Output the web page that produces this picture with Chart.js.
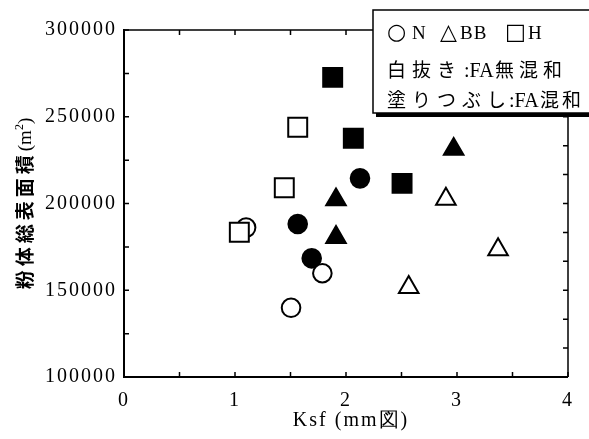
<!DOCTYPE html>
<html><head><meta charset="utf-8">
<script src="https://cdn.jsdelivr.net/npm/chart.js@4/dist/chart.umd.min.js"></script>
<style>html,body{margin:0;padding:0;background:#fff;}#c{display:block;}</style>
</head><body>
<canvas id="c" width="589" height="439"></canvas>
<script>
// ---- data ----
const nOpenX = [1.10, 1.787, 1.505];
const nOpenY = [186100, 159800, 139900];
const nFillX = [1.565, 1.691, 2.126];
const nFillY = [188200, 168400, 214500];
const bbOpenX = [2.90, 3.37, 2.565];
const bbOpenY = [202600, 173400, 151700];
const bbFillX = [1.91, 1.91, 2.97];
const bbFillY = [202200, 180500, 231300];
const hOpenX = [1.565, 1.444, 1.039];
const hOpenY = [243900, 209100, 183400];
const hFillX = [1.88, 2.066, 2.505];
const hFillY = [272700, 237600, 211600];
const xTicks = [0, 1, 2, 3, 4];
const yTicks = [100000, 150000, 200000, 250000, 300000];
const xTitle = 'Ksf (mm図)';
const yTitleMain = '粉体総表面積';
const yTitleUnit = ['(m', '2', ')'];
const legendLine1 = [['○', 'N'], ['△', 'BB'], ['□', 'H']];
const legendLine2 = ['白抜き', ':FA', '無混和'];
const legendLine3 = ['塗りつぶし', ':FA', '混和'];

const pts = (xs, ys) => xs.map((x, i) => ({x: x, y: ys[i]}));
const SERIF = '"Liberation Serif", "DejaVu Serif", serif';
const CJK = '"Noto Sans CJK JP", sans-serif';

function ds(label, data, style, filled, radius) {
  return {label, data, pointStyle: style, pointRadius: radius, pointHoverRadius: radius,
    backgroundColor: filled ? '#000' : '#fff', borderColor: '#000', borderWidth: 2, showLine: false};
}

const framePlugin = {
  id: 'frame',
  beforeDraw(chart) { chart.ctx.letterSpacing = '2px'; },
  afterDraw(chart) {
    const ctx = chart.ctx, a = chart.chartArea, s = chart.scales;
    ctx.save();
    ctx.letterSpacing = '0px';
    ctx.strokeStyle = '#000';
    // ticks
    ctx.lineWidth = 1.5;
    const T = 5;
    ctx.beginPath();
    s.x.ticks.forEach(t => { const p = s.x.getPixelForValue(t.value); ctx.moveTo(p, a.bottom); ctx.lineTo(p, a.bottom - T); });
    s.x2.ticks.forEach(t => { const p = s.x2.getPixelForValue(t.value); ctx.moveTo(p, a.top); ctx.lineTo(p, a.top + T); });
    s.y.ticks.forEach(t => { const p = s.y.getPixelForValue(t.value); ctx.moveTo(a.left, p); ctx.lineTo(a.left + T, p); });
    s.y2.ticks.forEach(t => { const p = s.y2.getPixelForValue(t.value); ctx.moveTo(a.right, p); ctx.lineTo(a.right - T, p); });
    ctx.stroke();
    // frame
    ctx.lineWidth = 2;
    ctx.beginPath(); ctx.moveTo(a.left, a.top - 1); ctx.lineTo(a.left, a.bottom); ctx.lineTo(a.right, a.bottom); ctx.stroke();
    ctx.lineWidth = 1.5;
    ctx.beginPath(); ctx.moveTo(a.left, a.top); ctx.lineTo(a.right, a.top); ctx.lineTo(a.right, a.bottom); ctx.stroke();

    // x title
    ctx.fillStyle = '#000';
    ctx.textBaseline = 'middle';
    ctx.textAlign = 'center';
    ctx.font = '20px ' + SERIF;
    ctx.letterSpacing = '2px';
    ctx.fillText(xTitle, (a.left + a.right) / 2 + 5, 421);

    // y title (rotated)
    ctx.save();
    ctx.translate(25, (a.top + a.bottom) / 2);
    ctx.rotate(-Math.PI / 2);
    ctx.textAlign = 'left';
    ctx.font = 'bold 19px ' + CJK;
    ctx.letterSpacing = '4px';
    const w1 = ctx.measureText(yTitleMain).width;
    ctx.font = '19px ' + SERIF; ctx.letterSpacing = '0px';
    const w2 = ctx.measureText(yTitleUnit[0]).width;
    ctx.font = '12px ' + SERIF;
    const w3 = ctx.measureText(yTitleUnit[1]).width;
    ctx.font = '19px ' + SERIF;
    const w4 = ctx.measureText(yTitleUnit[2]).width;
    let x0 = -(w1 + w2 + w3 + w4) / 2;
    ctx.font = 'bold 19px ' + CJK; ctx.letterSpacing = '4px';
    ctx.fillText(yTitleMain, x0, 0); x0 += w1;
    ctx.font = '19px ' + SERIF; ctx.letterSpacing = '0px';
    ctx.fillText(yTitleUnit[0], x0, 1); x0 += w2;
    ctx.font = '12px ' + SERIF;
    ctx.fillText(yTitleUnit[1], x0, -5); x0 += w3;
    ctx.font = '19px ' + SERIF;
    ctx.fillText(yTitleUnit[2], x0, 1);
    ctx.restore();

    // legend box
    const bx = 373, by = 10, bw = 240, bh = 103;
    ctx.fillStyle = '#000';
    ctx.fillRect(bx + 3, by + bh, bw, 4);
    ctx.fillStyle = '#fff';
    ctx.fillRect(bx, by, bw, bh);
    ctx.lineWidth = 1.5; ctx.strokeStyle = '#000';
    ctx.strokeRect(bx, by, bw, bh);
    ctx.fillStyle = '#000';
    ctx.textAlign = 'left';
    ctx.textBaseline = 'middle';
    // line 1
    const l1 = [[387, 412], [440, 460], [505, 528]];
    legendLine1.forEach((p, i) => {
      ctx.font = '22px ' + '"DejaVu Sans", sans-serif'; ctx.letterSpacing = '0px';
      ctx.fillText(p[0], l1[i][0], 33);
      ctx.font = '19px ' + SERIF; ctx.letterSpacing = '1px';
      ctx.fillText(p[1], l1[i][1], 34);
    });
    // line 2
    ctx.font = '19px ' + CJK; ctx.letterSpacing = '6px';
    ctx.fillText(legendLine2[0], 387, 70);
    ctx.font = '20px ' + SERIF; ctx.letterSpacing = '0px';
    ctx.fillText(legendLine2[1], 464, 72);
    ctx.font = '19px ' + CJK; ctx.letterSpacing = '5px';
    ctx.fillText(legendLine2[2], 495, 70);
    // line 3
    ctx.font = '19px ' + CJK; ctx.letterSpacing = '6px';
    ctx.fillText(legendLine3[0], 387, 100);
    ctx.font = '20px ' + SERIF; ctx.letterSpacing = '0px';
    ctx.fillText(legendLine3[1], 509, 102);
    ctx.font = '19px ' + CJK; ctx.letterSpacing = '3px';
    ctx.fillText(legendLine3[2], 540, 100);
    ctx.restore();
  }
};

new Chart(document.getElementById('c'), {
  type: 'scatter',
  data: {
    datasets: [
      ds('H open', pts(hOpenX, hOpenY), 'rect', false, 13.4),
      ds('N open', pts(nOpenX, nOpenY), 'circle', false, 9.3),
      ds('N fill', pts(nFillX, nFillY), 'circle', true, 9.3),
      ds('BB open', pts(bbOpenX, bbOpenY), 'triangle', false, 11.3),
      ds('BB fill', pts(bbFillX, bbFillY), 'triangle', true, 11.3),
      ds('H fill', pts(hFillX, hFillY), 'rect', true, 13.4)
    ]
  },
  options: {
    responsive: false,
    animation: false,
    layout: {padding: 0},
    plugins: {legend: {display: false}, tooltip: {enabled: false}},
    scales: {
      x: {
        type: 'linear', position: 'bottom', min: xTicks[0], max: xTicks[xTicks.length - 1],
        grid: {display: false, drawTicks: false, tickLength: 0}, border: {display: false},
        ticks: {stepSize: 0.5, autoSkip: false, padding: 12, color: '#000', font: {family: SERIF, size: 20},
          callback: v => xTicks.includes(v) ? String(v) : ''},
        afterFit: sc => { sc.height = 62; }
      },
      x2: {
        type: 'linear', position: 'top', min: xTicks[0], max: xTicks[xTicks.length - 1],
        grid: {display: false, drawTicks: false}, border: {display: false},
        ticks: {display: false, stepSize: 0.5},
        afterFit: sc => { sc.height = 30; }
      },
      y: {
        type: 'linear', position: 'left', min: yTicks[0], max: yTicks[yTicks.length - 1],
        grid: {display: false, drawTicks: false, tickLength: 0}, border: {display: false},
        ticks: {stepSize: 25000, autoSkip: false, padding: 7, color: '#000', font: {family: SERIF, size: 20},
          callback: v => yTicks.includes(v) ? String(v) : ''},
        afterFit: sc => { sc.width = 124; }
      },
      y2: {
        type: 'linear', position: 'right', min: 0, max: 12,
        grid: {display: false, drawTicks: false}, border: {display: false},
        ticks: {display: false, stepSize: 1},
        afterFit: sc => { sc.width = 21; }
      }
    }
  },
  plugins: [framePlugin]
});
</script>
</body></html>
